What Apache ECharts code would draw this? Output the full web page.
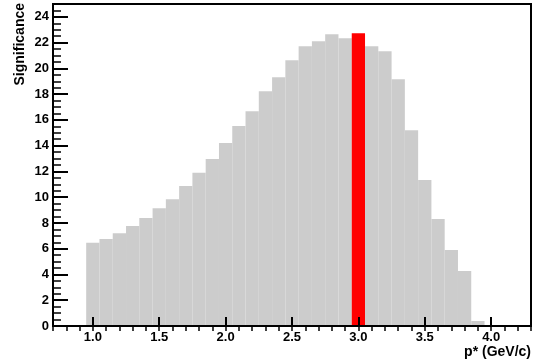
<!DOCTYPE html>
<html>
<head>
<meta charset="utf-8">
<script src="https://cdn.jsdelivr.net/npm/echarts@6/dist/echarts.min.js"></script>
<style>
  html, body { margin: 0; padding: 0; background: #fff; }
  #chart { width: 537px; height: 364px; }
</style>
</head>
<body>
<div id="chart"></div>
<script>
// Histogram of signal significance versus the momentum cut p*
const binCenters = [1.0, 1.1, 1.2, 1.3, 1.4, 1.5, 1.6, 1.7, 1.8, 1.9,
                    2.0, 2.1, 2.2, 2.3, 2.4, 2.5, 2.6, 2.7, 2.8, 2.9,
                    3.0, 3.1, 3.2, 3.3, 3.4, 3.5, 3.6, 3.7, 3.8, 3.9];
const significance = [6.46, 6.75, 7.2, 7.76, 8.38, 9.15, 9.85, 10.86, 11.89, 12.96,
                      14.2, 15.52, 16.68, 18.23, 19.32, 20.64, 21.72, 22.11, 22.65, 22.34,
                      22.73, 21.72, 21.33, 19.16, 15.2, 11.33, 8.3, 5.9, 4.27, 0.39];
const binWidth = 0.1;
const bestBin = 3.0;

const xMajorTicks = [1.0, 1.5, 2.0, 2.5, 3.0, 3.5, 4.0];
const yMajorTicks = [0, 2, 4, 6, 8, 10, 12, 14, 16, 18, 20, 22, 24];

// minor tick positions: every 0.1 on x, every 0.5 on y
const xMinorTicks = [];
for (let i = 7; i <= 43; i++) xMinorTicks.push(+(i / 10).toFixed(1));
const yMinorTicks = [];
for (let i = 0; i <= 50; i++) yMinorTicks.push(i / 2);

const FONT = 'Liberation Sans, Arial, Helvetica, sans-serif';
const GRAY = '#cccccc';
const RED = '#ff0000';

const chart = echarts.init(document.getElementById('chart'), null, { renderer: 'canvas' });

const baseX = { type: 'value', min: 0.7, max: 4.3, splitLine: { show: false }, z: 5 };
const baseY = { type: 'value', min: 0, max: 25, splitLine: { show: false }, z: 5 };

chart.setOption({
  animation: false,
  backgroundColor: '#fff',
  grid: {
    left: 53, right: 6, top: 4, bottom: 38,
    show: true, borderColor: '#000', borderWidth: 2, backgroundColor: 'transparent'
  },
  xAxis: [
    Object.assign({}, baseX, {
      axisLine: { show: true, lineStyle: { color: '#000', width: 2 } },
      axisTick: { show: true, inside: true, length: 9, customValues: xMajorTicks,
                  lineStyle: { color: '#000', width: 2 } },
      axisLabel: { show: true, customValues: xMajorTicks, margin: 5,
                   formatter: v => v.toFixed(1),
                   color: '#000', fontFamily: FONT, fontWeight: 'bold', fontSize: 13 }
    }),
    Object.assign({}, baseX, {
      axisLine: { show: false },
      axisTick: { show: true, inside: true, length: 5, customValues: xMinorTicks,
                  lineStyle: { color: '#000', width: 1.5 } },
      axisLabel: { show: false }
    })
  ],
  yAxis: [
    Object.assign({}, baseY, {
      axisLine: { show: true, lineStyle: { color: '#000', width: 2 } },
      axisTick: { show: true, inside: true, length: 15, customValues: yMajorTicks,
                  lineStyle: { color: '#000', width: 2 } },
      axisLabel: { show: true, customValues: yMajorTicks, margin: 4,
                   color: '#000', fontFamily: FONT, fontWeight: 'bold', fontSize: 13 }
    }),
    Object.assign({}, baseY, {
      position: 'left',
      axisLine: { show: false },
      axisTick: { show: true, inside: true, length: 8, customValues: yMinorTicks,
                  lineStyle: { color: '#000', width: 1.5 } },
      axisLabel: { show: false }
    })
  ],
  series: [{
    type: 'custom',
    xAxisIndex: 0,
    yAxisIndex: 0,
    z: 1,
    data: binCenters.map((c, i) => [c, significance[i]]),
    renderItem: function (params, api) {
      const c = api.value(0);
      const v = api.value(1);
      const topLeft = api.coord([c - binWidth / 2, v]);
      const bottomRight = api.coord([c + binWidth / 2, 0]);
      return {
        type: 'rect',
        shape: {
          x: topLeft[0], y: topLeft[1],
          width: bottomRight[0] - topLeft[0],
          height: bottomRight[1] - topLeft[1]
        },
        style: { fill: Math.abs(c - bestBin) < 1e-6 ? RED : GRAY }
      };
    }
  }],
  graphic: [
    {
      type: 'text', x: 20, y: 3, rotation: Math.PI / 2,
      style: { text: 'Significance', fill: '#000', font: 'bold 14px ' + FONT,
               align: 'right', verticalAlign: 'middle' }
    },
    {
      type: 'text', x: 531, y: 352,
      style: { text: 'p* (GeV/c)', fill: '#000', font: 'bold 14px ' + FONT,
               align: 'right', verticalAlign: 'middle' }
    }
  ]
});
</script>
</body>
</html>
